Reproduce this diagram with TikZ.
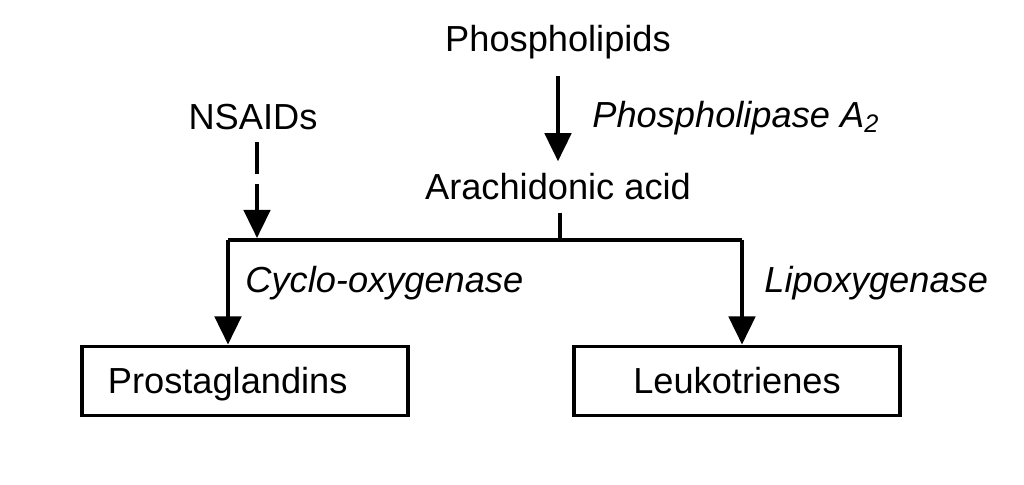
\documentclass[tikz,border=0pt]{standalone}
\usepackage{fontspec}
\setmainfont{Liberation Sans}
\usetikzlibrary{arrows.meta}

\begin{document}
\begin{tikzpicture}[x=0.01cm, y=-0.01cm,
  every node/.style={font=\fontsize{10.3}{12}\selectfont},
  enz/.style={font=\fontsize{10.3}{12}\selectfont\itshape, anchor=west},
  box/.style={draw, line width=1.1pt, minimum height=0.69cm, text height=1.6ex, text depth=0.3ex},
  line/.style={line width=1.1pt},
  arr/.style={line width=1.1pt, -{Triangle[length=8pt, width=7.5pt]}}]
  \useasboundingbox (0,0) rectangle (1024,485);

  % metabolites
  \node (pl) at (558,42) {Phospholipids};
  \node (aa) at (558,187) {Arachidonic acid};
  \node (ns) at (253,117) {NSAIDs};

  % products
  \node[box, inner xsep=0.26cm, text width=2.74cm, align=left] (pg) at (245,381) {Prostaglandins};
  \node[box, minimum width=3.26cm] (lt) at (737,381) {Leukotrienes};

  % enzymes
  \node[enz] (pla) at (580,118) {Phospholipase A\textsubscript{2}};
  \node[enz] (cox) at (233,283) {Cyclo-oxygenase};
  \node[enz] (lox) at (752,283) {Lipoxygenase};

  % branch points
  \coordinate (split) at (560,240);
  \coordinate (jl) at (228,240);
  \coordinate (jr) at (742,240);
  \coordinate (nsend) at (257,238);

  \draw[arr] ([yshift=-0.05cm]pl.south) -- (pl.south |- aa.north);
  \draw[line] (aa.south -| split) -- (split);
  \draw[line] (jl) -- (jr);
  \draw[arr] (jl) -- (jl |- pg.north);
  \draw[arr] (jr) -- (jr |- lt.north);
  \draw[arr, dash pattern=on 0.32cm off 0.1cm] (ns.south -| nsend) -- (nsend);
\end{tikzpicture}
\end{document}
